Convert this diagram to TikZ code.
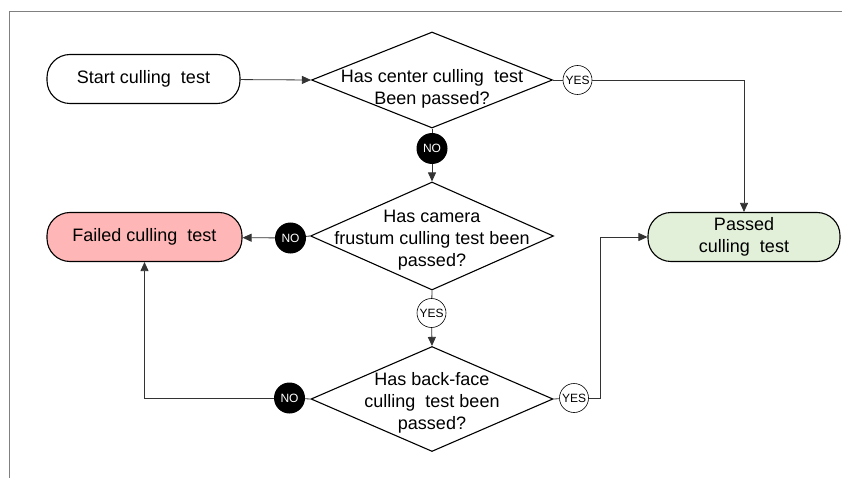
\documentclass[tikz,border=0pt]{standalone}
\usepackage{fontspec}
\setmainfont{Liberation Sans}
\usetikzlibrary{arrows.meta,shapes.geometric}
\definecolor{failpink}{RGB}{255,182,182}
\definecolor{passgreen}{RGB}{226,240,217}

\begin{document}
\begin{tikzpicture}[x=1pt,y=-1pt,
  box/.style={draw,line width=1.1pt,rounded corners=23pt,inner sep=0pt,
    minimum width=193pt,minimum height=49pt,align=center,
    font=\fontsize{18}{22}\selectfont},
  test/.style={draw,diamond,line width=1.1pt,inner sep=0pt},
  ask/.style={align=center,font=\fontsize{18}{22}\selectfont},
  yes/.style={circle,draw,fill=white,line width=0.6pt,inner sep=0pt,
    minimum size=29pt,font=\fontsize{12}{12}\selectfont},
  no/.style={circle,fill=black,text=white,inner sep=0pt,
    minimum size=31pt,font=\fontsize{12}{12}\selectfont},
  link/.style={draw=black!80,line width=0.8pt},
  arr/.style={link,-{Triangle[length=9pt,width=8pt]}}
]
\useasboundingbox (0,0) rectangle (842,478);

% frame
\draw[gray,line width=1.2pt] (842,11.5) -- (9.5,11.5) -- (9.5,478);

% boxes
\node[box] (start) at (143.5,79) {Start culling\ \ test};
\node[box,fill=failpink,minimum width=195pt] (failed) at (144.5,237) {Failed culling\ \ test};
\node[box,fill=passgreen,minimum width=192pt] (passed) at (744,237) {Passed\\culling\ \ test};

% tests
\node[test,minimum width=241pt,minimum height=96pt,
  label={[ask,yshift=-9pt]center:Has center culling\ \ test\\Been passed?}] (cen) at (432,80) {};
\node[test,minimum width=243pt,minimum height=108pt,
  label={[ask,yshift=-4pt]center:Has camera\\frustum culling test been\\passed?}] (fru) at (432,236) {};
\node[test,minimum width=242pt,minimum height=105pt,
  label={[ask,yshift=-4pt]center:Has back-face\\culling\ \ test been\\passed?}] (back) at (432,399) {};

% answers
\node[yes] (y1) at (577.5,80) {YES};
\node[no] (n1) at (432,148.5) {NO};
\node[no] (n2) at (290.5,238) {NO};
\node[yes] (y2) at (431.5,313) {YES};
\node[no] (n3) at (289.5,398) {NO};
\node[yes] (y3) at (574,398) {YES};

% connectors
\draw[arr] (start) -- (cen.west);
\draw[link] (cen.east) -- (y1);
\draw[arr] (y1) -| (passed);
\draw[link] (cen.south) -- (n1);
\draw[arr] (n1) -- (fru.north);
\draw[link] (fru.west) -- (n2);
\draw[arr] (n2) -- (failed);
\draw[link] (fru.south) -- (y2);
\draw[arr] (y2) -- (back.north);
\draw[link] (back.west) -- (n3);
\draw[arr] (n3) -| (failed);
\draw[link] (back.east) -- (y3);
\draw[arr] (y3.east) -- ++(12,0) |- (passed.west);

\end{tikzpicture}
\end{document}
